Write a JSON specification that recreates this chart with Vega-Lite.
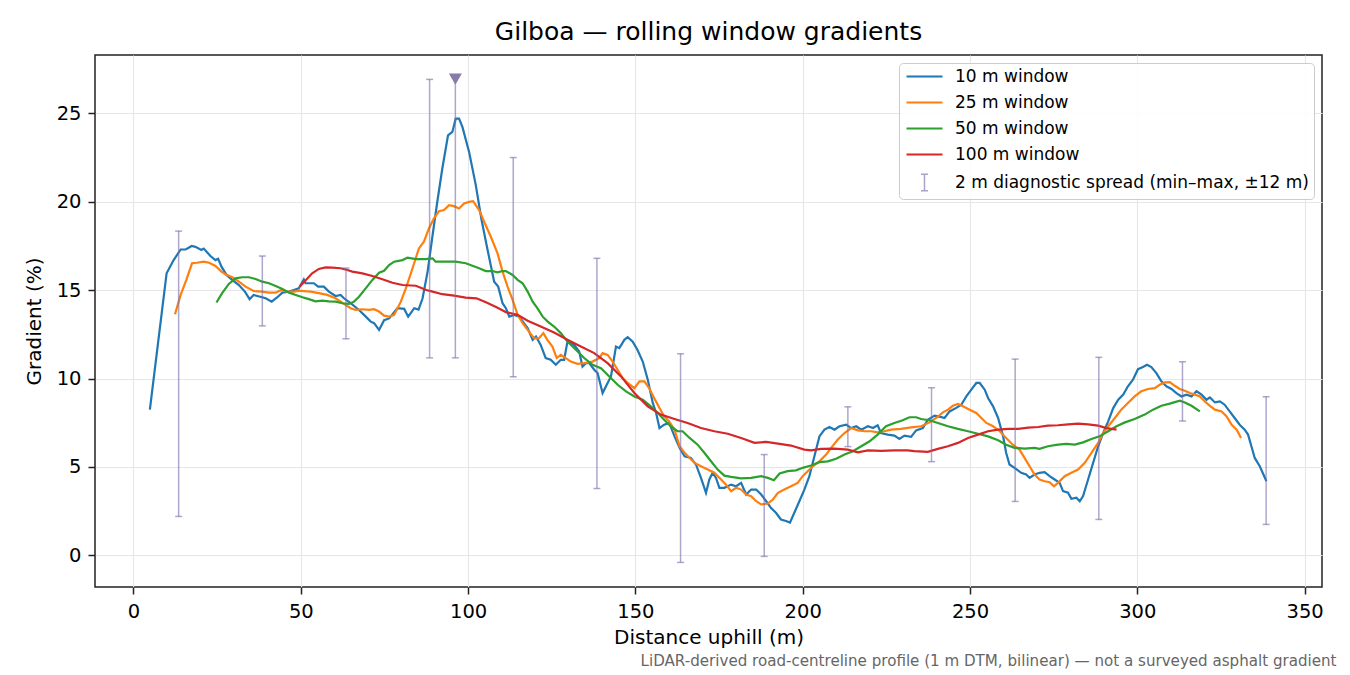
{
  "$schema": "https://vega.github.io/schema/vega-lite/v6.json",
  "width": 1227,
  "height": 532,
  "autosize": {"type": "none"},
  "padding": {"left": 95, "top": 55, "right": 28, "bottom": 88},
  "background": "white",
  "title": {
    "text": "Gilboa — rolling window gradients",
    "fontSize": 25,
    "fontWeight": "normal",
    "color": "black",
    "anchor": "middle",
    "baseline": "alphabetic",
    "offset": -10
  },
  "config": {
    "font": "DejaVu Sans",
    "view": {"stroke": "#222222", "strokeWidth": 1.5},
    "axis": {
      "domain": false,
      "tickColor": "#222222",
      "tickWidth": 1.5,
      "tickSize": 7,
      "labelFontSize": 19.5,
      "labelColor": "black",
      "titleFontSize": 20,
      "titleFontWeight": "normal",
      "titleColor": "black",
      "gridColor": "#e6e6e6",
      "gridWidth": 1.1
    }
  },
  "datasets": {
    "lines": [
      {"s": "10 m window", "d": 4.9, "g": 8.24},
      {"s": "10 m window", "d": 7.4, "g": 12.1},
      {"s": "10 m window", "d": 9.9, "g": 15.95},
      {"s": "10 m window", "d": 12.0, "g": 16.7},
      {"s": "10 m window", "d": 14.1, "g": 17.3},
      {"s": "10 m window", "d": 15.6, "g": 17.3},
      {"s": "10 m window", "d": 17.4, "g": 17.5},
      {"s": "10 m window", "d": 18.5, "g": 17.45},
      {"s": "10 m window", "d": 20.3, "g": 17.27},
      {"s": "10 m window", "d": 21.0, "g": 17.35},
      {"s": "10 m window", "d": 23.0, "g": 16.93},
      {"s": "10 m window", "d": 24.5, "g": 16.7},
      {"s": "10 m window", "d": 25.3, "g": 16.78},
      {"s": "10 m window", "d": 26.3, "g": 16.33},
      {"s": "10 m window", "d": 27.8, "g": 15.86},
      {"s": "10 m window", "d": 29.5, "g": 15.58},
      {"s": "10 m window", "d": 31.5, "g": 15.29},
      {"s": "10 m window", "d": 33.3, "g": 14.92},
      {"s": "10 m window", "d": 34.7, "g": 14.49},
      {"s": "10 m window", "d": 35.9, "g": 14.73},
      {"s": "10 m window", "d": 37.9, "g": 14.63},
      {"s": "10 m window", "d": 39.5, "g": 14.54},
      {"s": "10 m window", "d": 41.3, "g": 14.35},
      {"s": "10 m window", "d": 43.0, "g": 14.6},
      {"s": "10 m window", "d": 44.5, "g": 14.86},
      {"s": "10 m window", "d": 46.5, "g": 14.92},
      {"s": "10 m window", "d": 47.9, "g": 15.0},
      {"s": "10 m window", "d": 49.4, "g": 15.1},
      {"s": "10 m window", "d": 50.9, "g": 15.6},
      {"s": "10 m window", "d": 51.4, "g": 15.39},
      {"s": "10 m window", "d": 53.9, "g": 15.39},
      {"s": "10 m window", "d": 55.2, "g": 15.2},
      {"s": "10 m window", "d": 56.9, "g": 15.2},
      {"s": "10 m window", "d": 58.4, "g": 14.92},
      {"s": "10 m window", "d": 60.4, "g": 14.67},
      {"s": "10 m window", "d": 61.9, "g": 14.73},
      {"s": "10 m window", "d": 62.9, "g": 14.54},
      {"s": "10 m window", "d": 64.9, "g": 14.26},
      {"s": "10 m window", "d": 67.4, "g": 13.88},
      {"s": "10 m window", "d": 68.9, "g": 13.6},
      {"s": "10 m window", "d": 70.9, "g": 13.22},
      {"s": "10 m window", "d": 71.9, "g": 13.13},
      {"s": "10 m window", "d": 73.4, "g": 12.75},
      {"s": "10 m window", "d": 74.9, "g": 13.3},
      {"s": "10 m window", "d": 76.4, "g": 13.4},
      {"s": "10 m window", "d": 78.9, "g": 13.98},
      {"s": "10 m window", "d": 80.9, "g": 13.94},
      {"s": "10 m window", "d": 82.1, "g": 13.5},
      {"s": "10 m window", "d": 83.9, "g": 13.98},
      {"s": "10 m window", "d": 85.2, "g": 13.9},
      {"s": "10 m window", "d": 86.4, "g": 14.54},
      {"s": "10 m window", "d": 87.9, "g": 16.05},
      {"s": "10 m window", "d": 89.4, "g": 18.12},
      {"s": "10 m window", "d": 90.8, "g": 20.0},
      {"s": "10 m window", "d": 92.3, "g": 21.88},
      {"s": "10 m window", "d": 94.0, "g": 23.76},
      {"s": "10 m window", "d": 95.3, "g": 23.95},
      {"s": "10 m window", "d": 96.3, "g": 24.7},
      {"s": "10 m window", "d": 97.3, "g": 24.7},
      {"s": "10 m window", "d": 98.3, "g": 24.23},
      {"s": "10 m window", "d": 100.3, "g": 22.82},
      {"s": "10 m window", "d": 102.3, "g": 20.94},
      {"s": "10 m window", "d": 104.0, "g": 19.0},
      {"s": "10 m window", "d": 105.8, "g": 17.3},
      {"s": "10 m window", "d": 107.8, "g": 15.48},
      {"s": "10 m window", "d": 109.0, "g": 15.2},
      {"s": "10 m window", "d": 110.3, "g": 14.26},
      {"s": "10 m window", "d": 111.3, "g": 13.98},
      {"s": "10 m window", "d": 112.3, "g": 13.5},
      {"s": "10 m window", "d": 113.8, "g": 13.6},
      {"s": "10 m window", "d": 115.3, "g": 13.5},
      {"s": "10 m window", "d": 116.8, "g": 13.1},
      {"s": "10 m window", "d": 117.8, "g": 12.85},
      {"s": "10 m window", "d": 119.3, "g": 12.19},
      {"s": "10 m window", "d": 120.3, "g": 12.38},
      {"s": "10 m window", "d": 121.7, "g": 11.9},
      {"s": "10 m window", "d": 123.2, "g": 11.16},
      {"s": "10 m window", "d": 124.7, "g": 11.06},
      {"s": "10 m window", "d": 126.2, "g": 10.78},
      {"s": "10 m window", "d": 127.7, "g": 11.06},
      {"s": "10 m window", "d": 128.7, "g": 11.06},
      {"s": "10 m window", "d": 129.7, "g": 12.09},
      {"s": "10 m window", "d": 131.7, "g": 11.9},
      {"s": "10 m window", "d": 133.2, "g": 11.53},
      {"s": "10 m window", "d": 134.2, "g": 10.68},
      {"s": "10 m window", "d": 135.2, "g": 10.87},
      {"s": "10 m window", "d": 136.2, "g": 10.87},
      {"s": "10 m window", "d": 137.7, "g": 10.5},
      {"s": "10 m window", "d": 138.7, "g": 10.31},
      {"s": "10 m window", "d": 140.2, "g": 9.18},
      {"s": "10 m window", "d": 141.7, "g": 9.75},
      {"s": "10 m window", "d": 142.7, "g": 10.12},
      {"s": "10 m window", "d": 144.2, "g": 11.81},
      {"s": "10 m window", "d": 145.2, "g": 11.72},
      {"s": "10 m window", "d": 146.7, "g": 12.19},
      {"s": "10 m window", "d": 147.7, "g": 12.34},
      {"s": "10 m window", "d": 149.2, "g": 12.09},
      {"s": "10 m window", "d": 150.6, "g": 11.63},
      {"s": "10 m window", "d": 152.2, "g": 10.96},
      {"s": "10 m window", "d": 153.7, "g": 9.93},
      {"s": "10 m window", "d": 155.2, "g": 8.62},
      {"s": "10 m window", "d": 156.2, "g": 8.05},
      {"s": "10 m window", "d": 157.2, "g": 7.2},
      {"s": "10 m window", "d": 158.6, "g": 7.39},
      {"s": "10 m window", "d": 160.1, "g": 7.49},
      {"s": "10 m window", "d": 161.7, "g": 6.73},
      {"s": "10 m window", "d": 163.2, "g": 6.08},
      {"s": "10 m window", "d": 164.7, "g": 5.6},
      {"s": "10 m window", "d": 166.6, "g": 5.51},
      {"s": "10 m window", "d": 168.1, "g": 5.14},
      {"s": "10 m window", "d": 169.6, "g": 4.38},
      {"s": "10 m window", "d": 171.1, "g": 3.54},
      {"s": "10 m window", "d": 172.1, "g": 4.29},
      {"s": "10 m window", "d": 173.1, "g": 4.67},
      {"s": "10 m window", "d": 174.1, "g": 4.38},
      {"s": "10 m window", "d": 175.1, "g": 3.82},
      {"s": "10 m window", "d": 176.6, "g": 3.82},
      {"s": "10 m window", "d": 178.6, "g": 4.0},
      {"s": "10 m window", "d": 180.1, "g": 3.91},
      {"s": "10 m window", "d": 181.6, "g": 4.1},
      {"s": "10 m window", "d": 183.1, "g": 3.44},
      {"s": "10 m window", "d": 184.6, "g": 3.72},
      {"s": "10 m window", "d": 186.1, "g": 3.72},
      {"s": "10 m window", "d": 187.6, "g": 3.44},
      {"s": "10 m window", "d": 189.1, "g": 3.06},
      {"s": "10 m window", "d": 190.5, "g": 2.69},
      {"s": "10 m window", "d": 192.0, "g": 2.41},
      {"s": "10 m window", "d": 193.5, "g": 2.03},
      {"s": "10 m window", "d": 195.0, "g": 1.94},
      {"s": "10 m window", "d": 196.2, "g": 1.85},
      {"s": "10 m window", "d": 197.5, "g": 2.41},
      {"s": "10 m window", "d": 199.0, "g": 3.06},
      {"s": "10 m window", "d": 200.5, "g": 3.72},
      {"s": "10 m window", "d": 202.0, "g": 4.48},
      {"s": "10 m window", "d": 203.5, "g": 5.6},
      {"s": "10 m window", "d": 205.0, "g": 6.73},
      {"s": "10 m window", "d": 206.5, "g": 7.11},
      {"s": "10 m window", "d": 208.0, "g": 7.26},
      {"s": "10 m window", "d": 209.5, "g": 7.11},
      {"s": "10 m window", "d": 211.0, "g": 7.3},
      {"s": "10 m window", "d": 213.0, "g": 7.39},
      {"s": "10 m window", "d": 214.5, "g": 7.2},
      {"s": "10 m window", "d": 216.0, "g": 7.3},
      {"s": "10 m window", "d": 217.5, "g": 7.11},
      {"s": "10 m window", "d": 219.5, "g": 7.3},
      {"s": "10 m window", "d": 221.0, "g": 7.2},
      {"s": "10 m window", "d": 222.4, "g": 7.36},
      {"s": "10 m window", "d": 223.4, "g": 6.92},
      {"s": "10 m window", "d": 225.4, "g": 6.83},
      {"s": "10 m window", "d": 227.4, "g": 6.77},
      {"s": "10 m window", "d": 228.9, "g": 6.58},
      {"s": "10 m window", "d": 230.4, "g": 6.77},
      {"s": "10 m window", "d": 232.4, "g": 6.7},
      {"s": "10 m window", "d": 233.9, "g": 7.07},
      {"s": "10 m window", "d": 235.9, "g": 7.2},
      {"s": "10 m window", "d": 237.4, "g": 7.67},
      {"s": "10 m window", "d": 239.4, "g": 7.9},
      {"s": "10 m window", "d": 241.2, "g": 7.83},
      {"s": "10 m window", "d": 242.4, "g": 7.77},
      {"s": "10 m window", "d": 243.9, "g": 8.14},
      {"s": "10 m window", "d": 245.9, "g": 8.34},
      {"s": "10 m window", "d": 247.4, "g": 8.52},
      {"s": "10 m window", "d": 248.9, "g": 8.99},
      {"s": "10 m window", "d": 250.4, "g": 9.37},
      {"s": "10 m window", "d": 251.9, "g": 9.75},
      {"s": "10 m window", "d": 252.9, "g": 9.75},
      {"s": "10 m window", "d": 254.4, "g": 9.37},
      {"s": "10 m window", "d": 255.4, "g": 8.9},
      {"s": "10 m window", "d": 256.9, "g": 8.43},
      {"s": "10 m window", "d": 258.4, "g": 7.77},
      {"s": "10 m window", "d": 259.9, "g": 6.73},
      {"s": "10 m window", "d": 260.8, "g": 5.8},
      {"s": "10 m window", "d": 261.8, "g": 5.14},
      {"s": "10 m window", "d": 263.3, "g": 4.95},
      {"s": "10 m window", "d": 265.3, "g": 4.67},
      {"s": "10 m window", "d": 266.8, "g": 4.57},
      {"s": "10 m window", "d": 267.8, "g": 4.38},
      {"s": "10 m window", "d": 269.3, "g": 4.57},
      {"s": "10 m window", "d": 270.8, "g": 4.67},
      {"s": "10 m window", "d": 272.3, "g": 4.7},
      {"s": "10 m window", "d": 273.8, "g": 4.48},
      {"s": "10 m window", "d": 275.3, "g": 4.29},
      {"s": "10 m window", "d": 276.8, "g": 4.1},
      {"s": "10 m window", "d": 277.8, "g": 3.63},
      {"s": "10 m window", "d": 279.3, "g": 3.54},
      {"s": "10 m window", "d": 280.3, "g": 3.2},
      {"s": "10 m window", "d": 281.8, "g": 3.26},
      {"s": "10 m window", "d": 282.8, "g": 3.06},
      {"s": "10 m window", "d": 283.8, "g": 3.35},
      {"s": "10 m window", "d": 285.3, "g": 4.29},
      {"s": "10 m window", "d": 286.8, "g": 5.23},
      {"s": "10 m window", "d": 288.3, "g": 6.17},
      {"s": "10 m window", "d": 289.8, "g": 6.92},
      {"s": "10 m window", "d": 291.3, "g": 7.58},
      {"s": "10 m window", "d": 292.8, "g": 8.33},
      {"s": "10 m window", "d": 294.3, "g": 8.8},
      {"s": "10 m window", "d": 295.8, "g": 9.09},
      {"s": "10 m window", "d": 297.2, "g": 9.56},
      {"s": "10 m window", "d": 298.7, "g": 9.93},
      {"s": "10 m window", "d": 300.2, "g": 10.53},
      {"s": "10 m window", "d": 301.7, "g": 10.65},
      {"s": "10 m window", "d": 302.9, "g": 10.78},
      {"s": "10 m window", "d": 304.2, "g": 10.65},
      {"s": "10 m window", "d": 305.7, "g": 10.31},
      {"s": "10 m window", "d": 307.2, "g": 9.84},
      {"s": "10 m window", "d": 308.7, "g": 9.56},
      {"s": "10 m window", "d": 310.2, "g": 9.41},
      {"s": "10 m window", "d": 311.7, "g": 9.18},
      {"s": "10 m window", "d": 313.2, "g": 8.99},
      {"s": "10 m window", "d": 314.7, "g": 9.09},
      {"s": "10 m window", "d": 316.2, "g": 8.99},
      {"s": "10 m window", "d": 317.7, "g": 9.28},
      {"s": "10 m window", "d": 319.2, "g": 9.09},
      {"s": "10 m window", "d": 320.7, "g": 8.8},
      {"s": "10 m window", "d": 321.7, "g": 8.93},
      {"s": "10 m window", "d": 323.2, "g": 8.65},
      {"s": "10 m window", "d": 324.7, "g": 8.71},
      {"s": "10 m window", "d": 326.1, "g": 8.52},
      {"s": "10 m window", "d": 327.6, "g": 8.14},
      {"s": "10 m window", "d": 329.1, "g": 7.77},
      {"s": "10 m window", "d": 330.6, "g": 7.39},
      {"s": "10 m window", "d": 332.1, "g": 7.11},
      {"s": "10 m window", "d": 333.1, "g": 6.83},
      {"s": "10 m window", "d": 334.1, "g": 6.17},
      {"s": "10 m window", "d": 335.1, "g": 5.51},
      {"s": "10 m window", "d": 336.6, "g": 5.04},
      {"s": "10 m window", "d": 338.6, "g": 4.19},
      {"s": "25 m window", "d": 12.4, "g": 13.64},
      {"s": "25 m window", "d": 14.1, "g": 14.73},
      {"s": "25 m window", "d": 15.8, "g": 15.58},
      {"s": "25 m window", "d": 17.5, "g": 16.52},
      {"s": "25 m window", "d": 19.0, "g": 16.55},
      {"s": "25 m window", "d": 21.0, "g": 16.61},
      {"s": "25 m window", "d": 22.6, "g": 16.55},
      {"s": "25 m window", "d": 24.5, "g": 16.37},
      {"s": "25 m window", "d": 26.3, "g": 16.05},
      {"s": "25 m window", "d": 27.5, "g": 15.9},
      {"s": "25 m window", "d": 29.5, "g": 15.73},
      {"s": "25 m window", "d": 31.5, "g": 15.48},
      {"s": "25 m window", "d": 33.5, "g": 15.2},
      {"s": "25 m window", "d": 35.9, "g": 14.95},
      {"s": "25 m window", "d": 38.5, "g": 14.92},
      {"s": "25 m window", "d": 40.5, "g": 14.86},
      {"s": "25 m window", "d": 42.5, "g": 14.86},
      {"s": "25 m window", "d": 44.0, "g": 15.0},
      {"s": "25 m window", "d": 46.0, "g": 14.92},
      {"s": "25 m window", "d": 48.0, "g": 14.92},
      {"s": "25 m window", "d": 49.4, "g": 14.97},
      {"s": "25 m window", "d": 50.9, "g": 14.95},
      {"s": "25 m window", "d": 52.9, "g": 14.92},
      {"s": "25 m window", "d": 55.4, "g": 14.83},
      {"s": "25 m window", "d": 57.9, "g": 14.73},
      {"s": "25 m window", "d": 60.4, "g": 14.54},
      {"s": "25 m window", "d": 62.9, "g": 14.22},
      {"s": "25 m window", "d": 64.9, "g": 13.98},
      {"s": "25 m window", "d": 66.4, "g": 13.88},
      {"s": "25 m window", "d": 68.4, "g": 13.92},
      {"s": "25 m window", "d": 70.4, "g": 13.88},
      {"s": "25 m window", "d": 71.9, "g": 13.92},
      {"s": "25 m window", "d": 73.4, "g": 13.79},
      {"s": "25 m window", "d": 74.9, "g": 13.56},
      {"s": "25 m window", "d": 76.4, "g": 13.5},
      {"s": "25 m window", "d": 77.9, "g": 13.6},
      {"s": "25 m window", "d": 79.9, "g": 14.35},
      {"s": "25 m window", "d": 81.4, "g": 15.1},
      {"s": "25 m window", "d": 83.4, "g": 16.24},
      {"s": "25 m window", "d": 85.3, "g": 17.36},
      {"s": "25 m window", "d": 86.8, "g": 17.74},
      {"s": "25 m window", "d": 88.3, "g": 18.49},
      {"s": "25 m window", "d": 89.8, "g": 19.06},
      {"s": "25 m window", "d": 91.3, "g": 19.47},
      {"s": "25 m window", "d": 92.8, "g": 19.53},
      {"s": "25 m window", "d": 94.3, "g": 19.81},
      {"s": "25 m window", "d": 95.8, "g": 19.75},
      {"s": "25 m window", "d": 97.3, "g": 19.62},
      {"s": "25 m window", "d": 98.8, "g": 19.9},
      {"s": "25 m window", "d": 100.3, "g": 19.99},
      {"s": "25 m window", "d": 101.5, "g": 20.03},
      {"s": "25 m window", "d": 103.3, "g": 19.53},
      {"s": "25 m window", "d": 104.8, "g": 18.87},
      {"s": "25 m window", "d": 106.8, "g": 18.02},
      {"s": "25 m window", "d": 108.8, "g": 17.08},
      {"s": "25 m window", "d": 110.3, "g": 16.05},
      {"s": "25 m window", "d": 111.8, "g": 15.2},
      {"s": "25 m window", "d": 113.3, "g": 14.45},
      {"s": "25 m window", "d": 114.8, "g": 13.6},
      {"s": "25 m window", "d": 116.3, "g": 13.13},
      {"s": "25 m window", "d": 117.8, "g": 12.75},
      {"s": "25 m window", "d": 119.7, "g": 12.28},
      {"s": "25 m window", "d": 121.2, "g": 12.28},
      {"s": "25 m window", "d": 122.5, "g": 12.57},
      {"s": "25 m window", "d": 123.7, "g": 12.19},
      {"s": "25 m window", "d": 125.2, "g": 11.81},
      {"s": "25 m window", "d": 126.5, "g": 11.16},
      {"s": "25 m window", "d": 127.7, "g": 11.34},
      {"s": "25 m window", "d": 129.2, "g": 11.16},
      {"s": "25 m window", "d": 130.7, "g": 10.96},
      {"s": "25 m window", "d": 132.7, "g": 10.83},
      {"s": "25 m window", "d": 134.7, "g": 10.87},
      {"s": "25 m window", "d": 137.2, "g": 10.96},
      {"s": "25 m window", "d": 139.2, "g": 11.16},
      {"s": "25 m window", "d": 140.2, "g": 11.44},
      {"s": "25 m window", "d": 141.7, "g": 11.34},
      {"s": "25 m window", "d": 143.2, "g": 10.96},
      {"s": "25 m window", "d": 144.7, "g": 10.5},
      {"s": "25 m window", "d": 146.2, "g": 10.03},
      {"s": "25 m window", "d": 147.7, "g": 9.75},
      {"s": "25 m window", "d": 149.7, "g": 9.46},
      {"s": "25 m window", "d": 151.2, "g": 9.84},
      {"s": "25 m window", "d": 152.7, "g": 9.84},
      {"s": "25 m window", "d": 154.1, "g": 9.46},
      {"s": "25 m window", "d": 155.6, "g": 8.9},
      {"s": "25 m window", "d": 157.2, "g": 8.33},
      {"s": "25 m window", "d": 158.6, "g": 7.86},
      {"s": "25 m window", "d": 160.1, "g": 7.58},
      {"s": "25 m window", "d": 161.7, "g": 7.11},
      {"s": "25 m window", "d": 163.2, "g": 6.17},
      {"s": "25 m window", "d": 164.7, "g": 5.8},
      {"s": "25 m window", "d": 166.2, "g": 5.51},
      {"s": "25 m window", "d": 167.7, "g": 5.23},
      {"s": "25 m window", "d": 169.6, "g": 5.04},
      {"s": "25 m window", "d": 171.6, "g": 4.85},
      {"s": "25 m window", "d": 173.6, "g": 4.67},
      {"s": "25 m window", "d": 175.6, "g": 4.29},
      {"s": "25 m window", "d": 177.1, "g": 4.0},
      {"s": "25 m window", "d": 178.6, "g": 3.63},
      {"s": "25 m window", "d": 180.1, "g": 3.82},
      {"s": "25 m window", "d": 181.6, "g": 3.72},
      {"s": "25 m window", "d": 183.1, "g": 3.44},
      {"s": "25 m window", "d": 184.6, "g": 3.35},
      {"s": "25 m window", "d": 186.1, "g": 3.06},
      {"s": "25 m window", "d": 187.6, "g": 2.88},
      {"s": "25 m window", "d": 189.6, "g": 2.93},
      {"s": "25 m window", "d": 191.1, "g": 3.16},
      {"s": "25 m window", "d": 192.6, "g": 3.54},
      {"s": "25 m window", "d": 194.5, "g": 3.72},
      {"s": "25 m window", "d": 196.5, "g": 3.91},
      {"s": "25 m window", "d": 198.5, "g": 4.1},
      {"s": "25 m window", "d": 200.0, "g": 4.48},
      {"s": "25 m window", "d": 201.5, "g": 4.76},
      {"s": "25 m window", "d": 203.0, "g": 5.04},
      {"s": "25 m window", "d": 205.0, "g": 5.32},
      {"s": "25 m window", "d": 207.0, "g": 5.7},
      {"s": "25 m window", "d": 208.5, "g": 6.08},
      {"s": "25 m window", "d": 210.5, "g": 6.55},
      {"s": "25 m window", "d": 212.5, "g": 6.92},
      {"s": "25 m window", "d": 214.5, "g": 7.2},
      {"s": "25 m window", "d": 216.5, "g": 7.07},
      {"s": "25 m window", "d": 218.5, "g": 7.02},
      {"s": "25 m window", "d": 220.5, "g": 7.02},
      {"s": "25 m window", "d": 222.4, "g": 6.96},
      {"s": "25 m window", "d": 224.4, "g": 7.02},
      {"s": "25 m window", "d": 226.4, "g": 7.11},
      {"s": "25 m window", "d": 229.4, "g": 7.15},
      {"s": "25 m window", "d": 232.4, "g": 7.24},
      {"s": "25 m window", "d": 235.4, "g": 7.3},
      {"s": "25 m window", "d": 237.9, "g": 7.52},
      {"s": "25 m window", "d": 239.9, "g": 7.77},
      {"s": "25 m window", "d": 241.9, "g": 8.09},
      {"s": "25 m window", "d": 243.4, "g": 8.24},
      {"s": "25 m window", "d": 244.9, "g": 8.46},
      {"s": "25 m window", "d": 246.4, "g": 8.56},
      {"s": "25 m window", "d": 247.9, "g": 8.43},
      {"s": "25 m window", "d": 249.9, "g": 8.24},
      {"s": "25 m window", "d": 251.9, "g": 8.05},
      {"s": "25 m window", "d": 253.4, "g": 7.77},
      {"s": "25 m window", "d": 254.9, "g": 7.49},
      {"s": "25 m window", "d": 256.9, "g": 7.3},
      {"s": "25 m window", "d": 258.9, "g": 7.02},
      {"s": "25 m window", "d": 260.8, "g": 6.64},
      {"s": "25 m window", "d": 262.8, "g": 6.26},
      {"s": "25 m window", "d": 264.8, "g": 5.98},
      {"s": "25 m window", "d": 266.3, "g": 5.51},
      {"s": "25 m window", "d": 267.8, "g": 5.04},
      {"s": "25 m window", "d": 269.3, "g": 4.57},
      {"s": "25 m window", "d": 270.8, "g": 4.29},
      {"s": "25 m window", "d": 272.3, "g": 4.19},
      {"s": "25 m window", "d": 273.8, "g": 4.14},
      {"s": "25 m window", "d": 275.1, "g": 3.91},
      {"s": "25 m window", "d": 276.3, "g": 4.1},
      {"s": "25 m window", "d": 278.3, "g": 4.48},
      {"s": "25 m window", "d": 280.3, "g": 4.67},
      {"s": "25 m window", "d": 282.3, "g": 4.85},
      {"s": "25 m window", "d": 284.3, "g": 5.23},
      {"s": "25 m window", "d": 286.3, "g": 5.8},
      {"s": "25 m window", "d": 288.3, "g": 6.36},
      {"s": "25 m window", "d": 289.8, "g": 6.92},
      {"s": "25 m window", "d": 291.3, "g": 7.3},
      {"s": "25 m window", "d": 293.3, "g": 7.77},
      {"s": "25 m window", "d": 295.2, "g": 8.24},
      {"s": "25 m window", "d": 297.2, "g": 8.62},
      {"s": "25 m window", "d": 299.2, "g": 8.99},
      {"s": "25 m window", "d": 301.2, "g": 9.28},
      {"s": "25 m window", "d": 303.2, "g": 9.41},
      {"s": "25 m window", "d": 305.2, "g": 9.46},
      {"s": "25 m window", "d": 306.7, "g": 9.65},
      {"s": "25 m window", "d": 308.2, "g": 9.78},
      {"s": "25 m window", "d": 309.7, "g": 9.8},
      {"s": "25 m window", "d": 311.2, "g": 9.59},
      {"s": "25 m window", "d": 312.7, "g": 9.41},
      {"s": "25 m window", "d": 314.2, "g": 9.31},
      {"s": "25 m window", "d": 315.7, "g": 9.18},
      {"s": "25 m window", "d": 317.2, "g": 9.09},
      {"s": "25 m window", "d": 318.7, "g": 8.99},
      {"s": "25 m window", "d": 320.2, "g": 8.71},
      {"s": "25 m window", "d": 321.7, "g": 8.46},
      {"s": "25 m window", "d": 323.2, "g": 8.24},
      {"s": "25 m window", "d": 325.2, "g": 8.14},
      {"s": "25 m window", "d": 326.7, "g": 7.86},
      {"s": "25 m window", "d": 328.2, "g": 7.39},
      {"s": "25 m window", "d": 329.7, "g": 7.11},
      {"s": "25 m window", "d": 331.0, "g": 6.64},
      {"s": "50 m window", "d": 24.8, "g": 14.3},
      {"s": "50 m window", "d": 26.5, "g": 14.83},
      {"s": "50 m window", "d": 28.5, "g": 15.35},
      {"s": "50 m window", "d": 30.5, "g": 15.67},
      {"s": "50 m window", "d": 32.5, "g": 15.73},
      {"s": "50 m window", "d": 34.5, "g": 15.73},
      {"s": "50 m window", "d": 36.5, "g": 15.63},
      {"s": "50 m window", "d": 38.5, "g": 15.48},
      {"s": "50 m window", "d": 40.5, "g": 15.39},
      {"s": "50 m window", "d": 42.5, "g": 15.24},
      {"s": "50 m window", "d": 44.5, "g": 15.07},
      {"s": "50 m window", "d": 46.5, "g": 14.86},
      {"s": "50 m window", "d": 48.5, "g": 14.73},
      {"s": "50 m window", "d": 50.5, "g": 14.6},
      {"s": "50 m window", "d": 52.4, "g": 14.49},
      {"s": "50 m window", "d": 54.4, "g": 14.37},
      {"s": "50 m window", "d": 56.4, "g": 14.41},
      {"s": "50 m window", "d": 58.4, "g": 14.37},
      {"s": "50 m window", "d": 60.4, "g": 14.35},
      {"s": "50 m window", "d": 62.4, "g": 14.26},
      {"s": "50 m window", "d": 64.4, "g": 14.22},
      {"s": "50 m window", "d": 65.9, "g": 14.35},
      {"s": "50 m window", "d": 67.4, "g": 14.63},
      {"s": "50 m window", "d": 69.4, "g": 15.1},
      {"s": "50 m window", "d": 71.4, "g": 15.58},
      {"s": "50 m window", "d": 73.4, "g": 15.99},
      {"s": "50 m window", "d": 74.9, "g": 16.1},
      {"s": "50 m window", "d": 76.4, "g": 16.42},
      {"s": "50 m window", "d": 77.9, "g": 16.61},
      {"s": "50 m window", "d": 80.4, "g": 16.7},
      {"s": "50 m window", "d": 81.9, "g": 16.84},
      {"s": "50 m window", "d": 84.4, "g": 16.76},
      {"s": "50 m window", "d": 87.3, "g": 16.76},
      {"s": "50 m window", "d": 89.4, "g": 16.8},
      {"s": "50 m window", "d": 90.3, "g": 16.61},
      {"s": "50 m window", "d": 93.3, "g": 16.61},
      {"s": "50 m window", "d": 96.3, "g": 16.61},
      {"s": "50 m window", "d": 99.3, "g": 16.52},
      {"s": "50 m window", "d": 101.3, "g": 16.38},
      {"s": "50 m window", "d": 103.3, "g": 16.24},
      {"s": "50 m window", "d": 105.3, "g": 16.08},
      {"s": "50 m window", "d": 107.3, "g": 16.08},
      {"s": "50 m window", "d": 108.8, "g": 16.01},
      {"s": "50 m window", "d": 110.3, "g": 16.08},
      {"s": "50 m window", "d": 111.3, "g": 16.08},
      {"s": "50 m window", "d": 113.3, "g": 15.86},
      {"s": "50 m window", "d": 114.8, "g": 15.58},
      {"s": "50 m window", "d": 116.3, "g": 15.39},
      {"s": "50 m window", "d": 117.8, "g": 14.92},
      {"s": "50 m window", "d": 119.3, "g": 14.35},
      {"s": "50 m window", "d": 120.7, "g": 13.98},
      {"s": "50 m window", "d": 122.3, "g": 13.5},
      {"s": "50 m window", "d": 123.8, "g": 13.22},
      {"s": "50 m window", "d": 125.7, "g": 12.94},
      {"s": "50 m window", "d": 127.7, "g": 12.57},
      {"s": "50 m window", "d": 129.7, "g": 12.09},
      {"s": "50 m window", "d": 132.2, "g": 11.63},
      {"s": "50 m window", "d": 134.7, "g": 11.16},
      {"s": "50 m window", "d": 137.2, "g": 10.78},
      {"s": "50 m window", "d": 139.7, "g": 10.59},
      {"s": "50 m window", "d": 142.2, "g": 10.12},
      {"s": "50 m window", "d": 144.7, "g": 9.65},
      {"s": "50 m window", "d": 147.2, "g": 9.27},
      {"s": "50 m window", "d": 149.7, "g": 8.99},
      {"s": "50 m window", "d": 152.2, "g": 8.8},
      {"s": "50 m window", "d": 154.6, "g": 8.43},
      {"s": "50 m window", "d": 156.7, "g": 8.05},
      {"s": "50 m window", "d": 158.6, "g": 7.67},
      {"s": "50 m window", "d": 160.6, "g": 7.3},
      {"s": "50 m window", "d": 162.6, "g": 7.02},
      {"s": "50 m window", "d": 164.1, "g": 7.02},
      {"s": "50 m window", "d": 166.2, "g": 6.64},
      {"s": "50 m window", "d": 168.6, "g": 6.26},
      {"s": "50 m window", "d": 170.6, "g": 5.8},
      {"s": "50 m window", "d": 172.6, "g": 5.32},
      {"s": "50 m window", "d": 174.6, "g": 4.85},
      {"s": "50 m window", "d": 176.6, "g": 4.51},
      {"s": "50 m window", "d": 178.6, "g": 4.44},
      {"s": "50 m window", "d": 181.6, "g": 4.35},
      {"s": "50 m window", "d": 184.6, "g": 4.38},
      {"s": "50 m window", "d": 187.6, "g": 4.48},
      {"s": "50 m window", "d": 189.6, "g": 4.38},
      {"s": "50 m window", "d": 191.4, "g": 4.25},
      {"s": "50 m window", "d": 193.1, "g": 4.63},
      {"s": "50 m window", "d": 195.5, "g": 4.76},
      {"s": "50 m window", "d": 198.0, "g": 4.81},
      {"s": "50 m window", "d": 200.0, "g": 4.95},
      {"s": "50 m window", "d": 202.5, "g": 5.08},
      {"s": "50 m window", "d": 205.0, "g": 5.27},
      {"s": "50 m window", "d": 207.5, "g": 5.32},
      {"s": "50 m window", "d": 210.0, "g": 5.46},
      {"s": "50 m window", "d": 212.5, "g": 5.7},
      {"s": "50 m window", "d": 215.0, "g": 5.89},
      {"s": "50 m window", "d": 217.5, "g": 6.17},
      {"s": "50 m window", "d": 220.0, "g": 6.45},
      {"s": "50 m window", "d": 222.4, "g": 6.83},
      {"s": "50 m window", "d": 224.9, "g": 7.3},
      {"s": "50 m window", "d": 227.4, "g": 7.49},
      {"s": "50 m window", "d": 229.9, "g": 7.64},
      {"s": "50 m window", "d": 231.9, "g": 7.81},
      {"s": "50 m window", "d": 233.9, "g": 7.81},
      {"s": "50 m window", "d": 235.4, "g": 7.71},
      {"s": "50 m window", "d": 237.9, "g": 7.64},
      {"s": "50 m window", "d": 240.4, "g": 7.49},
      {"s": "50 m window", "d": 243.4, "g": 7.3},
      {"s": "50 m window", "d": 246.4, "g": 7.15},
      {"s": "50 m window", "d": 249.4, "g": 7.02},
      {"s": "50 m window", "d": 252.4, "g": 6.88},
      {"s": "50 m window", "d": 255.4, "g": 6.73},
      {"s": "50 m window", "d": 258.4, "g": 6.51},
      {"s": "50 m window", "d": 260.8, "g": 6.26},
      {"s": "50 m window", "d": 263.3, "g": 6.08},
      {"s": "50 m window", "d": 266.3, "g": 6.04},
      {"s": "50 m window", "d": 269.3, "g": 6.08},
      {"s": "50 m window", "d": 270.8, "g": 6.02},
      {"s": "50 m window", "d": 273.3, "g": 6.17},
      {"s": "50 m window", "d": 276.3, "g": 6.26},
      {"s": "50 m window", "d": 278.8, "g": 6.3},
      {"s": "50 m window", "d": 281.3, "g": 6.26},
      {"s": "50 m window", "d": 283.8, "g": 6.39},
      {"s": "50 m window", "d": 286.3, "g": 6.58},
      {"s": "50 m window", "d": 288.7, "g": 6.73},
      {"s": "50 m window", "d": 291.3, "g": 7.02},
      {"s": "50 m window", "d": 293.8, "g": 7.3},
      {"s": "50 m window", "d": 296.3, "g": 7.52},
      {"s": "50 m window", "d": 299.2, "g": 7.71},
      {"s": "50 m window", "d": 302.2, "g": 7.96},
      {"s": "50 m window", "d": 304.7, "g": 8.24},
      {"s": "50 m window", "d": 307.2, "g": 8.46},
      {"s": "50 m window", "d": 309.7, "g": 8.58},
      {"s": "50 m window", "d": 312.7, "g": 8.75},
      {"s": "50 m window", "d": 314.2, "g": 8.65},
      {"s": "50 m window", "d": 316.2, "g": 8.46},
      {"s": "50 m window", "d": 318.7, "g": 8.14},
      {"s": "100 m window", "d": 49.7, "g": 15.2},
      {"s": "100 m window", "d": 51.4, "g": 15.54},
      {"s": "100 m window", "d": 53.4, "g": 15.95},
      {"s": "100 m window", "d": 55.4, "g": 16.2},
      {"s": "100 m window", "d": 57.4, "g": 16.29},
      {"s": "100 m window", "d": 59.4, "g": 16.27},
      {"s": "100 m window", "d": 61.9, "g": 16.24},
      {"s": "100 m window", "d": 63.9, "g": 16.14},
      {"s": "100 m window", "d": 65.4, "g": 16.05},
      {"s": "100 m window", "d": 68.4, "g": 15.95},
      {"s": "100 m window", "d": 71.4, "g": 15.8},
      {"s": "100 m window", "d": 74.4, "g": 15.62},
      {"s": "100 m window", "d": 77.4, "g": 15.42},
      {"s": "100 m window", "d": 80.4, "g": 15.29},
      {"s": "100 m window", "d": 84.4, "g": 15.25},
      {"s": "100 m window", "d": 87.5, "g": 15.01},
      {"s": "100 m window", "d": 89.4, "g": 14.92},
      {"s": "100 m window", "d": 92.3, "g": 14.77},
      {"s": "100 m window", "d": 95.8, "g": 14.69},
      {"s": "100 m window", "d": 99.3, "g": 14.58},
      {"s": "100 m window", "d": 102.5, "g": 14.54},
      {"s": "100 m window", "d": 105.5, "g": 14.3},
      {"s": "100 m window", "d": 108.5, "g": 14.03},
      {"s": "100 m window", "d": 111.5, "g": 13.74},
      {"s": "100 m window", "d": 114.8, "g": 13.6},
      {"s": "100 m window", "d": 117.8, "g": 13.27},
      {"s": "100 m window", "d": 121.7, "g": 12.94},
      {"s": "100 m window", "d": 125.7, "g": 12.6},
      {"s": "100 m window", "d": 129.7, "g": 12.19},
      {"s": "100 m window", "d": 133.7, "g": 11.81},
      {"s": "100 m window", "d": 137.7, "g": 11.44},
      {"s": "100 m window", "d": 141.7, "g": 10.87},
      {"s": "100 m window", "d": 145.7, "g": 10.12},
      {"s": "100 m window", "d": 149.7, "g": 9.18},
      {"s": "100 m window", "d": 153.7, "g": 8.43},
      {"s": "100 m window", "d": 157.6, "g": 7.96},
      {"s": "100 m window", "d": 161.7, "g": 7.71},
      {"s": "100 m window", "d": 165.6, "g": 7.49},
      {"s": "100 m window", "d": 169.6, "g": 7.2},
      {"s": "100 m window", "d": 173.6, "g": 7.02},
      {"s": "100 m window", "d": 177.6, "g": 6.88},
      {"s": "100 m window", "d": 181.6, "g": 6.64},
      {"s": "100 m window", "d": 185.6, "g": 6.36},
      {"s": "100 m window", "d": 189.1, "g": 6.42},
      {"s": "100 m window", "d": 192.6, "g": 6.32},
      {"s": "100 m window", "d": 196.5, "g": 6.21},
      {"s": "100 m window", "d": 200.5, "g": 5.98},
      {"s": "100 m window", "d": 202.5, "g": 5.94},
      {"s": "100 m window", "d": 205.5, "g": 6.02},
      {"s": "100 m window", "d": 209.5, "g": 6.04},
      {"s": "100 m window", "d": 213.5, "g": 5.98},
      {"s": "100 m window", "d": 216.5, "g": 5.83},
      {"s": "100 m window", "d": 219.5, "g": 5.94},
      {"s": "100 m window", "d": 223.4, "g": 5.91},
      {"s": "100 m window", "d": 227.4, "g": 5.94},
      {"s": "100 m window", "d": 231.4, "g": 5.94},
      {"s": "100 m window", "d": 233.4, "g": 5.89},
      {"s": "100 m window", "d": 237.4, "g": 5.85},
      {"s": "100 m window", "d": 240.4, "g": 6.02},
      {"s": "100 m window", "d": 243.4, "g": 6.17},
      {"s": "100 m window", "d": 246.4, "g": 6.36},
      {"s": "100 m window", "d": 249.4, "g": 6.64},
      {"s": "100 m window", "d": 252.4, "g": 6.83},
      {"s": "100 m window", "d": 255.4, "g": 7.02},
      {"s": "100 m window", "d": 258.4, "g": 7.11},
      {"s": "100 m window", "d": 261.4, "g": 7.15},
      {"s": "100 m window", "d": 264.4, "g": 7.15},
      {"s": "100 m window", "d": 267.4, "g": 7.22},
      {"s": "100 m window", "d": 270.4, "g": 7.26},
      {"s": "100 m window", "d": 273.3, "g": 7.34},
      {"s": "100 m window", "d": 276.3, "g": 7.36},
      {"s": "100 m window", "d": 279.3, "g": 7.41},
      {"s": "100 m window", "d": 282.3, "g": 7.45},
      {"s": "100 m window", "d": 285.3, "g": 7.41},
      {"s": "100 m window", "d": 288.3, "g": 7.34},
      {"s": "100 m window", "d": 290.8, "g": 7.2},
      {"s": "100 m window", "d": 293.8, "g": 7.11}
    ],
    "spread": [
      {"d": 13.5, "lo": 2.2, "hi": 18.34},
      {"d": 38.5, "lo": 12.98, "hi": 16.93},
      {"d": 63.5, "lo": 12.25, "hi": 16.25},
      {"d": 88.5, "lo": 11.17, "hi": 26.92},
      {"d": 96.2, "lo": 11.17, "hi": 26.92},
      {"d": 113.5, "lo": 10.1, "hi": 22.5},
      {"d": 138.5, "lo": 3.78, "hi": 16.8},
      {"d": 163.5, "lo": -0.4, "hi": 11.4},
      {"d": 188.5, "lo": -0.06, "hi": 5.7},
      {"d": 213.5, "lo": 6.15, "hi": 8.4},
      {"d": 238.5, "lo": 5.3, "hi": 9.48},
      {"d": 263.5, "lo": 3.05, "hi": 11.1},
      {"d": 288.5, "lo": 2.03, "hi": 11.2},
      {"d": 313.5, "lo": 7.6, "hi": 10.95},
      {"d": 338.5, "lo": 1.75, "hi": 8.97}
    ],
    "peak": [
      {"d": 96.2, "g": 26.93}
    ]
  },
  "resolve": {"scale": {"x": "independent"}, "axis": {"x": "independent"}},
  "layer": [
    {
      "layer": [
        {
          "data": {"name": "lines"},
          "mark": {"type": "line", "strokeWidth": 2.2},
          "encoding": {
            "x": {
              "field": "d",
              "type": "quantitative",
              "scale": {"domain": [-11.5, 355.2], "nice": false, "zero": false},
              "axis": {
                "values": [0, 50, 100, 150, 200, 250, 300, 350],
                "title": "Distance uphill (m)",
                "labelPadding": 8,
                "titlePadding": 7
              }
            },
            "y": {
              "field": "g",
              "type": "quantitative",
              "scale": {"domain": [-1.79, 28.3], "nice": false, "zero": false},
              "axis": {
                "values": [0, 5, 10, 15, 20, 25],
                "title": "Gradient (%)",
                "labelPadding": 7,
                "titlePadding": 12
              }
            },
            "color": {
              "field": "s",
              "type": "nominal",
              "scale": {
                "domain": ["10 m window", "25 m window", "50 m window", "100 m window", "2 m diagnostic spread (min–max, ±12 m)"],
                "range": ["#1f77b4", "#ff7f0e", "#2ca02c", "#d62728", "#aca2c9"]
              },
              "legend": {
                "title": null,
                "orient": "top-right",
                "offset": 8,
                "padding": 5,
                "rowPadding": 8,
                "labelFontSize": 17,
                "labelColor": "black",
                "labelOffset": 34,
                "labelLimit": 600,
                "symbolSize": 400,
                "symbolStrokeWidth": 2.2,
                "symbolType": "M-0.6,0L3,0",
                "strokeColor": "#cccccc",
                "fillColor": "rgba(255,255,255,0.85)",
                "cornerRadius": 4,
                "encode": {
                  "symbols": {
                    "update": {
                      "shape": {"signal": "datum.value === '2 m diagnostic spread (min–max, ±12 m)' ? 'M1.2,-0.83L1.2,0.83M0.85,-0.83L1.55,-0.83M0.85,0.83L1.55,0.83' : 'M-0.6,0L3,0'"},
                      "strokeWidth": {"signal": "datum.value === '2 m diagnostic spread (min–max, ±12 m)' ? 1.5 : 2.2"}
                    }
                  }
                }
              }
            }
          }
        },
        {
          "data": {"name": "spread"},
          "mark": {"type": "rule", "color": "#7a6aaa", "opacity": 0.6, "strokeWidth": 1.5},
          "encoding": {
            "x": {"field": "d", "type": "quantitative"},
            "y": {"field": "lo", "type": "quantitative"},
            "y2": {"field": "hi"}
          }
        },
        {
          "data": {"name": "spread"},
          "mark": {"type": "tick", "orient": "horizontal", "color": "#7a6aaa", "opacity": 0.6, "size": 7, "thickness": 1.5},
          "encoding": {
            "x": {"field": "d", "type": "quantitative"},
            "y": {"field": "lo", "type": "quantitative"}
          }
        },
        {
          "data": {"name": "spread"},
          "transform": [{"filter": "datum.d !== 96.2"}],
          "mark": {"type": "tick", "orient": "horizontal", "color": "#7a6aaa", "opacity": 0.6, "size": 7, "thickness": 1.5},
          "encoding": {
            "x": {"field": "d", "type": "quantitative"},
            "y": {"field": "hi", "type": "quantitative"}
          }
        }
      ]
    },
    {
      "data": {"name": "peak"},
      "mark": {"type": "point", "shape": "triangle-down", "filled": true, "color": "#877ca6", "opacity": 1, "size": 170},
      "encoding": {
        "x": {
          "field": "d",
          "type": "quantitative",
          "scale": {"domain": [-11.5, 355.2], "nice": false, "zero": false},
          "axis": {
            "orient": "bottom",
            "labels": false,
            "ticks": false,
            "domain": false,
            "grid": false,
            "title": "LiDAR-derived road-centreline profile (1 m DTM, bilinear) — not a surveyed asphalt gradient",
            "titleFontSize": 15.1,
            "titleFontWeight": "normal",
            "titleColor": "#666666",
            "titleX": 1241,
            "titleY": 78,
            "titleAlign": "right",
            "titleBaseline": "alphabetic"
          }
        },
        "y": {
          "field": "g",
          "type": "quantitative",
          "scale": {"domain": [-1.79, 28.3], "nice": false, "zero": false},
          "axis": {
            "values": [0, 5, 10, 15, 20, 25],
            "title": "Gradient (%)",
            "labelPadding": 7,
            "titlePadding": 12
          }
        }
      }
    }
  ]
}
